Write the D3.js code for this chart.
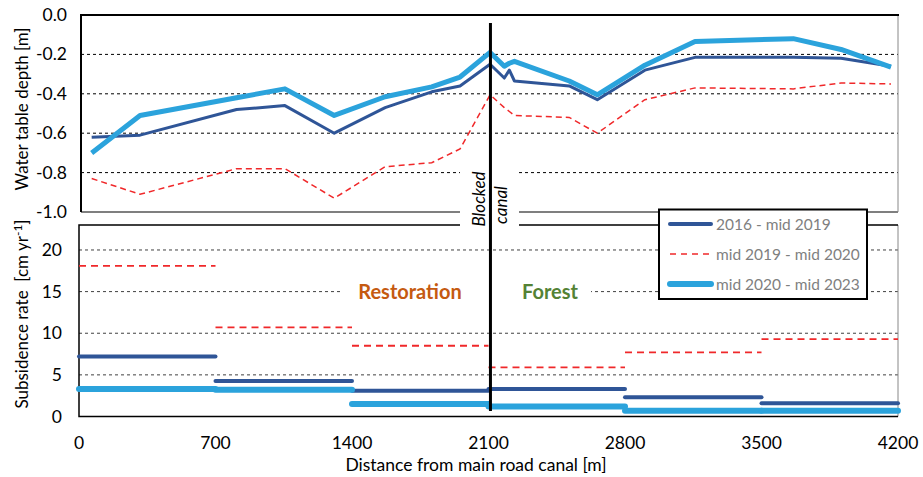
<!DOCTYPE html>
<html>
<head>
<meta charset="utf-8">
<script src="https://cdn.jsdelivr.net/npm/d3@7"></script>
<style>
  body { margin: 0; background: #fff; }
  svg { font-family: Lato, "Open Sans", sans-serif; }
</style>
</head>
<body>
<svg id="chart" width="923" height="477"></svg>
<script>
// water table depth profile (top panel)
var distance = [65, 313, 808, 1056, 1309, 1570, 1809, 1954, 2108, 2181, 2207, 2233, 2514, 2658, 2902, 3159, 3663, 3908, 4164];
var wt2016 = [-0.62, -0.61, -0.48, -0.46, -0.60, -0.47, -0.39, -0.36, -0.25, -0.32, -0.28, -0.335, -0.36, -0.43, -0.28, -0.215, -0.215, -0.22, -0.26];
var wt2019 = [-0.83, -0.91, -0.78, -0.78, -0.93, -0.77, -0.75, -0.68, -0.405, -0.47, -0.49, -0.51, -0.52, -0.60, -0.43, -0.37, -0.375, -0.345, -0.35];
var wt2020 = [-0.70, -0.51, -0.42, -0.375, -0.51, -0.415, -0.365, -0.315, -0.19, -0.26, -0.245, -0.235, -0.335, -0.405, -0.255, -0.135, -0.12, -0.175, -0.265];

// subsidence rates per 700 m section (bottom panel)
var sections = [0, 700, 1400, 2100, 2800, 3500, 4200];
var sub2016 = [7.2, 4.25, 3.1, 3.3, 2.3, 1.6];
var sub2019 = [18.1, 10.7, 8.5, 5.9, 7.7, 9.3];
var sub2020 = [3.3, 3.2, 1.5, 1.2, 0.7, 0.7];

var depthTicks = [0, -0.2, -0.4, -0.6, -0.8, -1.0];
var rateTicks = [0, 5, 10, 15, 20];
var seriesNames = ["2016 - mid 2019", "mid 2019 - mid 2020", "mid 2020 - mid 2023"];
var canalAt = 2110;

var cDark = "#2F5597", cRed = "#F0282A", cLight = "#2BA3DC";

var svg = d3.select("#chart");

var x = d3.scaleLinear().domain([0, 4200]).range([79, 898]);
var yTop = d3.scaleLinear().domain([-1, 0]).range([212, 15]);
var yBot = d3.scaleLinear().domain([0, 23]).range([416.5, 225]);

// gridlines
svg.append("g").selectAll("line")
    .data(depthTicks.filter(function (d) { return d < 0 && d > -1; }))
    .enter().append("line")
    .attr("x1", 81).attr("x2", 898)
    .attr("y1", function (d) { return yTop(d); })
    .attr("y2", function (d) { return yTop(d); })
    .attr("stroke", "#000").attr("stroke-width", 1)
    .attr("stroke-dasharray", "3,3");

svg.append("g").selectAll("line")
    .data(rateTicks.filter(function (d) { return d > 0; }))
    .enter().append("line")
    .attr("x1", 79).attr("x2", 898)
    .attr("y1", function (d) { return yBot(d); })
    .attr("y2", function (d) { return yBot(d); })
    .attr("stroke", "#404040").attr("stroke-width", 1)
    .attr("stroke-dasharray", "3,3");

// top panel frame
svg.append("line").attr("x1", 81).attr("x2", 898).attr("y1", yTop(-1)).attr("y2", yTop(-1))
    .attr("stroke", "#000").attr("stroke-width", 1.2);
svg.append("line").attr("x1", 898).attr("x2", 898).attr("y1", 15).attr("y2", yTop(-1))
    .attr("stroke", "#888").attr("stroke-width", 1);
svg.append("path").attr("d", "M81," + yTop(-1) + "V15H899")
    .attr("fill", "none").attr("stroke", "#000").attr("stroke-width", 2);

// bottom panel frame
svg.append("line").attr("x1", 898).attr("x2", 898).attr("y1", 225).attr("y2", yBot(0))
    .attr("stroke", "#888").attr("stroke-width", 1);
svg.append("path").attr("d", "M898,225H79V" + yBot(0) + "H898")
    .attr("fill", "none").attr("stroke", "#000").attr("stroke-width", 1.5);

// white boxes behind labels
svg.append("rect").attr("x", 460).attr("y", 165).attr("width", 59).attr("height", 80).attr("fill", "#fff");
svg.append("rect").attr("x", 343).attr("y", 282).attr("width", 248).attr("height", 22).attr("fill", "#fff");

// top panel lines
function profile(vals) {
    return d3.line()
        .x(function (d, i) { return x(distance[i]); })
        .y(function (d) { return yTop(d); })(vals);
}
svg.append("path").attr("d", profile(wt2019)).attr("fill", "none")
    .attr("stroke", cRed).attr("stroke-width", 1.5).attr("stroke-dasharray", "6,4");
svg.append("path").attr("d", profile(wt2016)).attr("fill", "none")
    .attr("stroke", cDark).attr("stroke-width", 3).attr("stroke-linejoin", "round");
svg.append("path").attr("d", profile(wt2020)).attr("fill", "none")
    .attr("stroke", cLight).attr("stroke-width", 5).attr("stroke-linejoin", "round");

// bottom panel segments
function segments(vals, color, width, dash) {
    svg.append("g").selectAll("line")
        .data(vals).enter().append("line")
        .attr("x1", function (d, i) { return x(sections[i]); })
        .attr("x2", function (d, i) { return x(sections[i + 1]); })
        .attr("y1", function (d) { return yBot(d); })
        .attr("y2", function (d) { return yBot(d); })
        .attr("stroke", color).attr("stroke-width", width)
        .attr("stroke-linecap", dash ? "butt" : "round")
        .attr("stroke-dasharray", dash || null);
}
segments(sub2019, cRed, 1.8, "7,5");
segments(sub2016, cDark, 4);
segments(sub2020, cLight, 6);

// blocked canal line
svg.append("line").attr("x1", x(canalAt)).attr("x2", x(canalAt)).attr("y1", 23).attr("y2", 411)
    .attr("stroke", "#000").attr("stroke-width", 3);

var canalText = svg.append("g").attr("font-style", "italic").attr("font-size", 17).attr("fill", "#000");
canalText.append("text").attr("transform", "translate(" + (x(canalAt) - 5) + ",199) rotate(-90)")
    .attr("text-anchor", "middle").text("Blocked");
canalText.append("text").attr("transform", "translate(" + (x(canalAt) + 17) + ",205) rotate(-90)")
    .attr("text-anchor", "middle").text("canal");

svg.append("text").attr("x", 410).attr("y", 299).attr("text-anchor", "middle")
    .attr("font-size", 20).attr("font-weight", "bold").attr("fill", "#C55A11").text("Restoration");
svg.append("text").attr("x", 550).attr("y", 299).attr("text-anchor", "middle")
    .attr("font-size", 20).attr("font-weight", "bold").attr("fill", "#548235").text("Forest");

// axes labels
svg.append("g").selectAll("text").data(depthTicks).enter().append("text")
    .attr("x", 67).attr("y", function (d) { return yTop(d) + 6; })
    .attr("text-anchor", "end").attr("font-size", 17.5).attr("fill", "#000")
    .text(function (d) { return d3.format(".1f")(d).replace("−", "-"); });

svg.append("g").selectAll("text").data(rateTicks).enter().append("text")
    .attr("x", 62).attr("y", function (d) { return yBot(d) + 6; })
    .attr("text-anchor", "end").attr("font-size", 17.5).attr("fill", "#000")
    .text(function (d) { return d; });

svg.append("g").selectAll("text").data(sections).enter().append("text")
    .attr("x", function (d) { return x(d); }).attr("y", 449)
    .attr("text-anchor", "middle").attr("font-size", 17.5).attr("fill", "#000")
    .text(function (d) { return d; });

svg.append("text").attr("x", 476).attr("y", 471).attr("text-anchor", "middle")
    .attr("font-size", 17.5).attr("fill", "#000").text("Distance from main road canal [m]");

svg.append("text").attr("transform", "translate(28,109) rotate(-90)")
    .attr("text-anchor", "middle").attr("font-size", 17).attr("fill", "#000")
    .text("Water table depth [m]");

var subT = svg.append("text").attr("transform", "translate(28,314) rotate(-90)")
    .attr("text-anchor", "middle").attr("font-size", 17).attr("fill", "#000")
    .style("white-space", "pre");
subT.append("tspan").text("Subsidence rate  [cm yr");
subT.append("tspan").attr("dy", -6).attr("font-size", 12).text("-1");
subT.append("tspan").attr("dy", 6).text("]");

// legend
var legend = svg.append("g");
legend.append("rect").attr("x", 659).attr("y", 209.5).attr("width", 208).attr("height", 89.5)
    .attr("fill", "#fff").attr("stroke", "#000").attr("stroke-width", 2);
var legStyle = [
    {color: cDark, width: 4, dash: null},
    {color: cRed, width: 1.5, dash: "6,5"},
    {color: cLight, width: 6, dash: null}
];
seriesNames.forEach(function (name, i) {
    var yy = 224 + i * 30;
    legend.append("line").attr("x1", 670).attr("x2", 711).attr("y1", yy).attr("y2", yy)
        .attr("stroke", legStyle[i].color).attr("stroke-width", legStyle[i].width)
        .attr("stroke-linecap", legStyle[i].dash ? "butt" : "round")
        .attr("stroke-dasharray", legStyle[i].dash);
    legend.append("text").attr("x", 716).attr("y", yy + 5.5).attr("font-size", 15.5)
        .attr("fill", "#7F7F7F").text(name);
});
</script>
</body>
</html>
